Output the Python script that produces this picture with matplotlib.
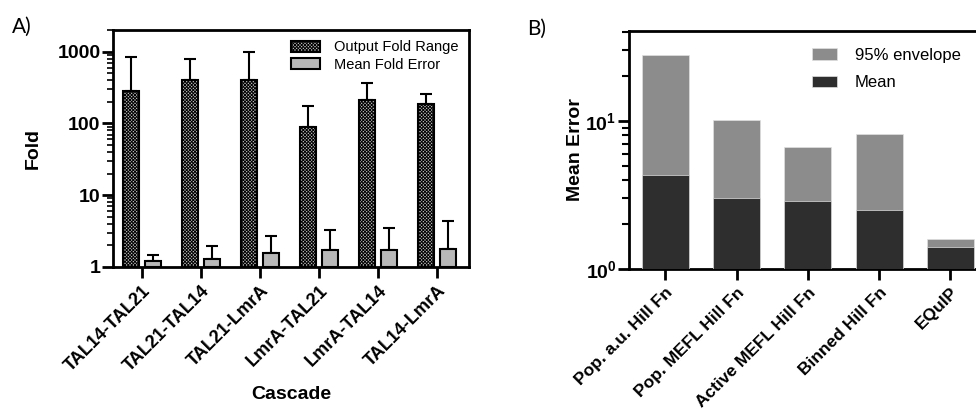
import matplotlib
matplotlib.use('Agg')
import matplotlib.pyplot as plt
import numpy as np
from matplotlib.ticker import LogLocator, NullFormatter, FixedLocator, FixedFormatter

plt.rcParams['font.family'] = ['Liberation Sans', 'DejaVu Sans']
plt.rcParams['hatch.linewidth'] = 0.7
plt.rcParams['mathtext.fontset'] = 'custom'
plt.rcParams['mathtext.bf'] = 'Liberation Sans:bold'
plt.rcParams['mathtext.rm'] = 'Liberation Sans:bold'
plt.rcParams['mathtext.default'] = 'bf'

# Panel A data
cascades = ['TAL14-TAL21', 'TAL21-TAL14', 'TAL21-LmrA', 'LmrA-TAL21', 'LmrA-TAL14', 'TAL14-LmrA']
fold_range = [285, 405, 405, 90, 213, 188]
fold_range_top = [841, 796, 1000, 176, 360, 259]
mean_fold_err = [1.2, 1.31, 1.55, 1.74, 1.74, 1.8]
mean_fold_err_top = [1.47, 1.96, 2.7, 3.28, 3.53, 4.42]

# Panel B data
methods = ['Pop. a.u. Hill Fn', 'Pop. MEFL Hill Fn', 'Active MEFL Hill Fn', 'Binned Hill Fn', 'EQuIP']
err_mean = [4.3, 3.0, 2.87, 2.52, 1.41]
err_env = [27.8, 10.1, 6.67, 8.13, 1.59]

fig = plt.figure(figsize=(9.76, 4.09), dpi=100)

# ---------- A ----------
ax = fig.add_axes([0.1158, 0.3472, 0.3647, 0.5795])
x = np.arange(len(cascades))
w = 0.27
off = 0.19
y1 = np.array(fold_range)
y2 = np.array(mean_fold_err)
ax.bar(x - off, y1 - 1, w, bottom=1, facecolor='#c0c0c0', edgecolor='black',
       hatch='xxxxxxxxxx', linewidth=1.5, label='Output Fold Range', zorder=2)
ax.bar(x + off, y2 - 1, w, bottom=1, facecolor='#b8b8b8', edgecolor='black',
       linewidth=1.5, label='Mean Fold Error', zorder=2)
ax.errorbar(x - off, y1, yerr=[np.zeros(len(y1)), np.array(fold_range_top) - y1],
            fmt='none', ecolor='black', elinewidth=1.5, capsize=4, capthick=1.5, zorder=1)
ax.errorbar(x + off, y2, yerr=[np.zeros(len(y2)), np.array(mean_fold_err_top) - y2],
            fmt='none', ecolor='black', elinewidth=1.5, capsize=4, capthick=1.5, zorder=1)
ax.set_yscale('log')
ax.set_ylim(1, 2000)
ax.set_xlim(-0.49, 5.54)
ax.yaxis.set_major_locator(FixedLocator([1, 10, 100, 1000]))
ax.yaxis.set_major_formatter(FixedFormatter(['1', '10', '100', '1000']))
ax.yaxis.set_minor_locator(LogLocator(base=10, subs=np.arange(2, 10)))
ax.yaxis.set_minor_formatter(NullFormatter())
ax.set_xticks(x)
ax.set_xticklabels(cascades, rotation=45, ha='right', rotation_mode='anchor',
                   fontweight='bold', fontsize=13)
for lab in ax.get_yticklabels():
    lab.set_fontweight('bold')
    lab.set_fontsize(14)
ax.tick_params(axis='both', which='major', length=8, width=2, direction='out')
ax.tick_params(axis='y', which='major', pad=1)
ax.tick_params(axis='y', which='minor', length=4, width=1.2)
ax.tick_params(axis='x', pad=3)
for s in ax.spines.values():
    s.set_linewidth(2)
ax.set_ylabel('Fold', fontweight='bold', fontsize=14, labelpad=11)
ax.set_xlabel('Cascade', fontweight='bold', fontsize=14, labelpad=8)
leg = ax.legend(loc='upper right', frameon=False, fontsize=10.5, handlelength=2.0,
                handleheight=0.8, borderaxespad=0.3, labelspacing=0.25, handletextpad=1.0)
fig.text(0.012, 0.92, 'A)', fontsize=15, family='Lato')

# ---------- B ----------
bx = fig.add_axes([0.6445, 0.3423, 0.3555, 0.5819])
xb = np.arange(len(methods))
bx.bar(xb, np.array(err_env) - 1, 0.66, bottom=1, color='#8c8c8c', edgecolor='#e0e0e0',
       linewidth=0.5, label='95% envelope', zorder=2)
bx.bar(xb, np.array(err_mean) - 1, 0.66, bottom=1, color='#2e2e2e', edgecolor='#e0e0e0',
       linewidth=0.5, label='Mean', zorder=3)
bx.set_yscale('log')
bx.set_ylim(1, 40.5)
bx.set_xlim(-0.51, 4.36)
bx.yaxis.set_major_locator(FixedLocator([1, 10]))
bx.yaxis.set_major_formatter(FixedFormatter([r'$10^{0}$', r'$10^{1}$']))
bx.yaxis.set_minor_locator(LogLocator(base=10, subs=np.arange(2, 10)))
bx.yaxis.set_minor_formatter(NullFormatter())
bx.set_xticks(xb)
bx.set_xticklabels(methods, rotation=45, ha='right', rotation_mode='anchor',
                   fontweight='bold', fontsize=12.5)
for lab in bx.get_yticklabels():
    lab.set_fontsize(14)
bx.tick_params(axis='both', which='major', length=8, width=2, direction='out')
bx.tick_params(axis='y', which='major', pad=1)
bx.tick_params(axis='y', which='minor', length=5, width=1.5)
bx.spines['right'].set_visible(False)
for s in ['left', 'top', 'bottom']:
    bx.spines[s].set_linewidth(2)
bx.set_ylabel('Mean Error', fontweight='bold', fontsize=14, labelpad=1)
bx.legend(loc='upper right', frameon=False, fontsize=12, handlelength=1.5,
          handleheight=0.7, borderaxespad=0.4, labelspacing=0.75, handletextpad=1.1,
          bbox_to_anchor=(0.995, 0.985))
fig.text(0.540, 0.915, 'B)', fontsize=15, family='Lato')

fig.savefig('out.png', dpi=100)
